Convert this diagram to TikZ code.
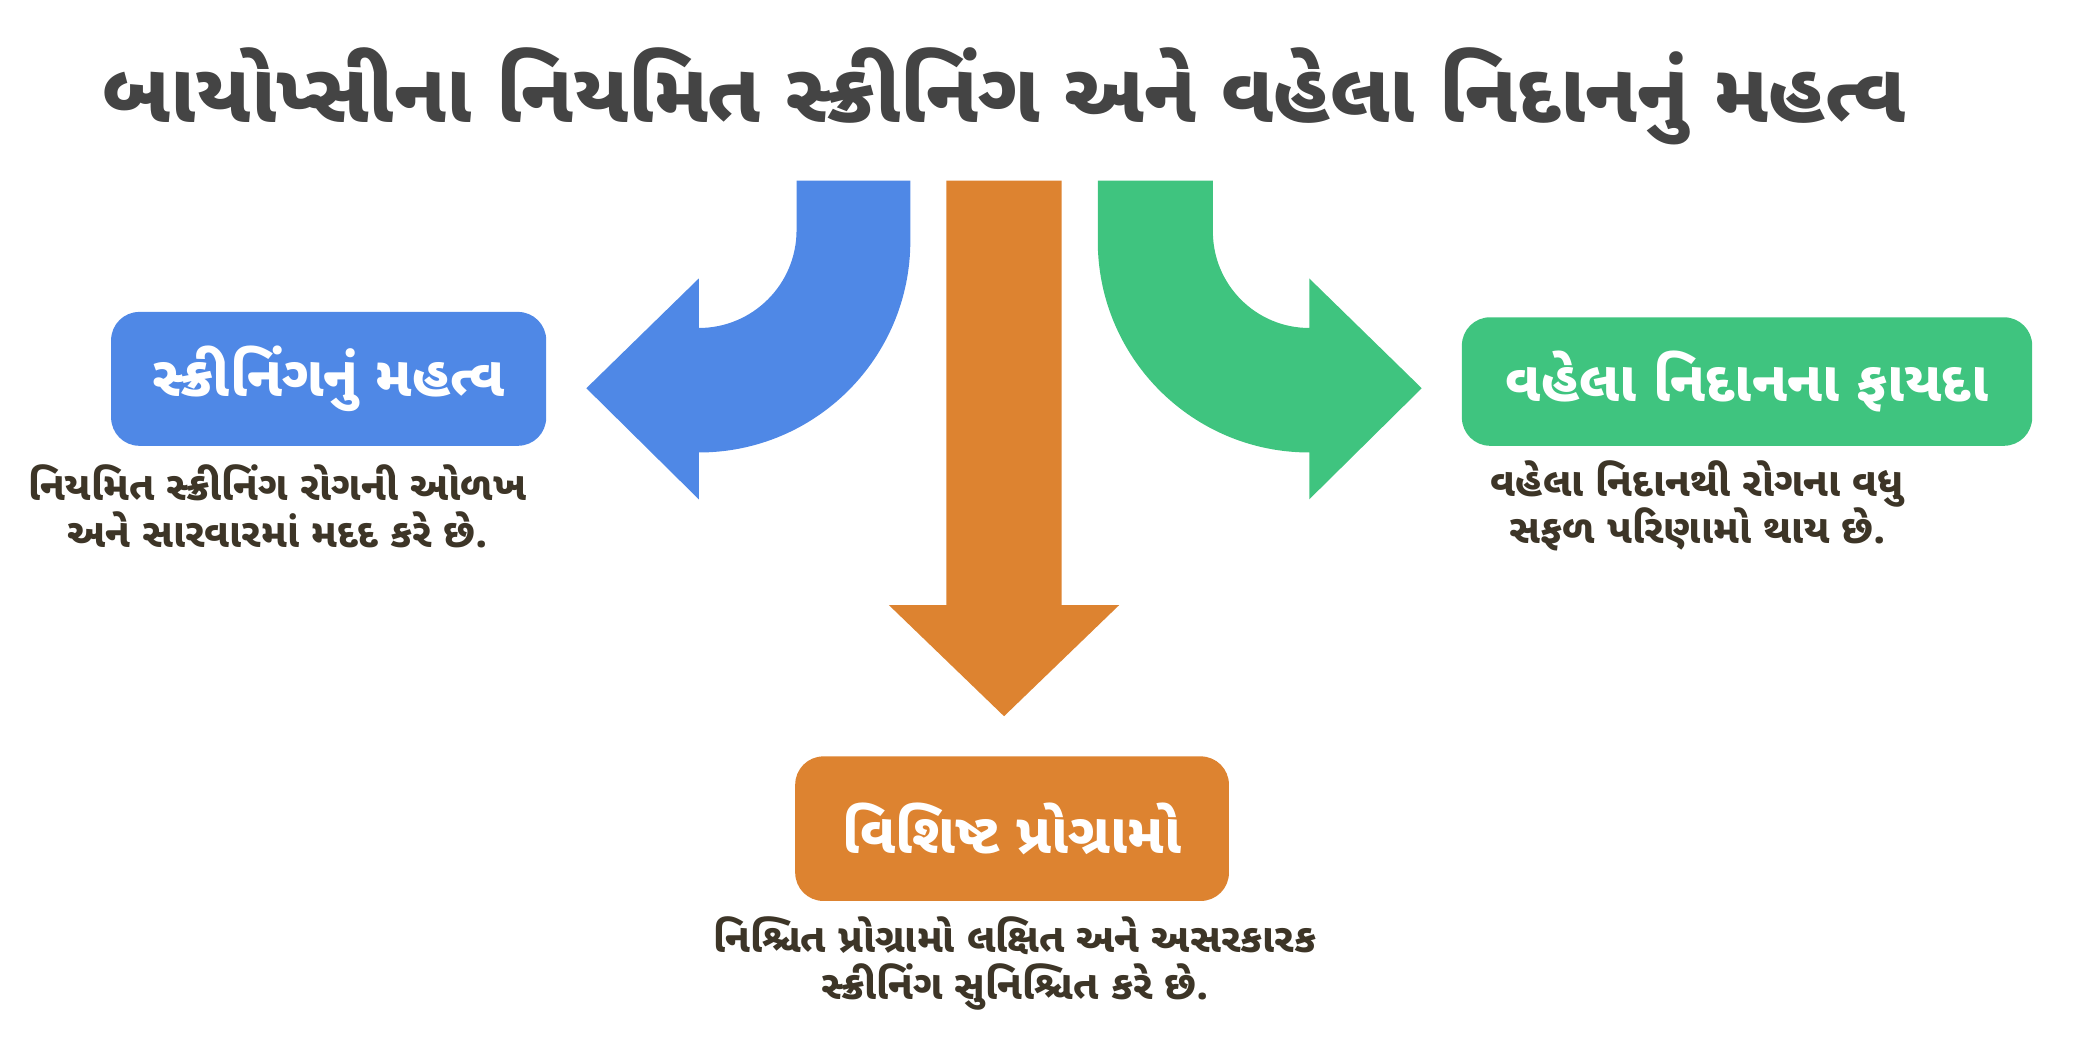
\documentclass[tikz,border=0pt]{standalone}
\usepackage{fontspec}
\newfontfamily\guj[Script=Gujarati]{Noto Sans Gujarati UI}
\definecolor{cblue}{HTML}{4F88E6}
\definecolor{cgreen}{HTML}{3FC47F}
\definecolor{corange}{HTML}{DD8330}
\definecolor{ctitle}{HTML}{444444}
\definecolor{cdesc}{HTML}{3D3527}
\begin{document}
\begin{tikzpicture}[x=0.02cm,y=-0.02cm,
  box/.style={rounded corners=12pt,text=white,font=\guj\bfseries\fontsize{24}{28}\selectfont,inner sep=0pt},
  desc/.style={text=cdesc,align=center,font=\guj\bfseries\fontsize{17}{20}\selectfont}]
\useasboundingbox (0,0) rectangle (1550,794);
\node[text=ctitle,font=\guj\bfseries\fontsize{35.5}{40}\selectfont] (title) at (750,72) {બાયોપ્સીના નિયમિત સ્ક્રીનિંગ અને વહેલા નિદાનનું મહત્વ};
% blue arrow
\fill[cblue] (680,135) -- (680,180) arc[start angle=0,end angle=90,radius=158] -- (522,373) -- (438,290) -- (522,208) -- (522,245) arc[start angle=90,end angle=0,radius=73] -- (595,135) -- cycle;
% green arrow
\fill[cgreen] (820,135) -- (820,180) arc[start angle=180,end angle=90,radius=158] -- (978,373) -- (1062,290) -- (978,208) -- (978,245) arc[start angle=90,end angle=180,radius=72] -- (906,135) -- cycle;
% orange arrow
\fill[corange] (707,135) -- (793,135) -- (793,452) -- (836,452) -- (750,535) -- (664,452) -- (707,452) -- cycle;
% boxes
\fill[cblue,rounded corners=12pt] (83,233) rectangle (408,333);
\node[box] (b1) at (245.5,283) {સ્ક્રીનિંગનું મહત્વ};
\fill[cgreen,rounded corners=12pt] (1092,237) rectangle (1518,333);
\node[box] (b2) at (1305,285) {વહેલા નિદાનના ફાયદા};
\fill[corange,rounded corners=12pt] (594,565) rectangle (918,673);
\node[box] (b3) at (756,619) {વિશિષ્ટ પ્રોગ્રામો};
\node[desc] (d1) at (207,378) {નિયમિત સ્ક્રીનિંગ રોગની ઓળખ\\અને સારવારમાં મદદ કરે છે.};
\node[desc] (d2) at (1268,378) {વહેલા નિદાનથી રોગના વધુ\\સફળ પરિણામો થાય છે.};
\node[desc] (d3) at (758,720) {નિશ્ચિત પ્રોગ્રામો લક્ષિત અને અસરકારક\\સ્ક્રીનિંગ સુનિશ્ચિત કરે છે.};
\end{tikzpicture}
\end{document}
